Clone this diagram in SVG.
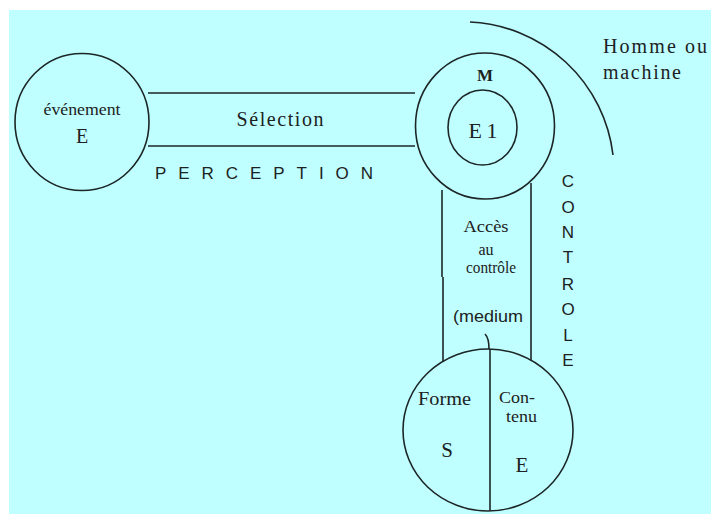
<svg xmlns="http://www.w3.org/2000/svg" width="711" height="514" viewBox="0 0 711 514">
<style>
.ln{fill:none;stroke:#1c2626;stroke-width:1.6}
.sf{font-family:"Liberation Serif","Times New Roman",serif;fill:#1c2222}
.ss{font-family:"Liberation Sans",Arial,sans-serif;fill:#1c2222}
</style>
<rect x="0" y="0" width="711" height="514" fill="#ffffff"/>
<rect x="9" y="10" width="702" height="504" fill="#c0ffff"/>
<g id="connectors">
<line class="ln" x1="148" y1="93" x2="415" y2="93"/>
<line class="ln" x1="148" y1="146" x2="415" y2="146"/>
<line class="ln" x1="442" y1="190" x2="442" y2="277"/>
<line class="ln" x1="443" y1="277" x2="443" y2="362"/>
<line class="ln" x1="531" y1="183" x2="531" y2="361"/>
<path class="ln" d="M485 334 Q489 338 489 349"/>
</g>
<g id="perception-label">
<text class="sf" x="280" y="126" font-size="20" text-anchor="middle" textLength="87" lengthAdjust="spacing">Sélection</text>
<text class="ss" x="155" y="179" font-size="17" textLength="218" lengthAdjust="spacing">PERCEPTION</text>
</g>
<g id="node-evenement">
<ellipse class="ln" cx="82" cy="122" rx="67" ry="68.5"/>
<text class="sf" x="82" y="115" font-size="16" text-anchor="middle" textLength="77" lengthAdjust="spacingAndGlyphs">événement</text>
<text class="sf" x="82" y="143" font-size="20" text-anchor="middle">E</text>
</g>
<g id="node-M">
<ellipse class="ln" cx="485" cy="126" rx="69.5" ry="73"/>
<ellipse class="ln" cx="482.5" cy="127.5" rx="34.5" ry="37.5"/>
<text class="sf" x="485" y="81" font-size="17" font-weight="bold" text-anchor="middle">M</text>
<text class="sf" x="483" y="138" font-size="22" text-anchor="middle" textLength="29" lengthAdjust="spacing">E1</text>
</g>
<g id="node-homme">
<path class="ln" d="M470 22 A151 151 0 0 1 613 155"/>
<text class="sf" x="603" y="53" font-size="20" textLength="104" lengthAdjust="spacing">Homme ou</text>
<text class="sf" x="603" y="79" font-size="20" textLength="78" lengthAdjust="spacing">machine</text>
</g>
<g id="controle-label" class="ss" font-size="17" text-anchor="middle">
<text class="ss" x="568" y="187">C</text>
<text class="ss" x="568" y="213">O</text>
<text class="ss" x="568" y="238">N</text>
<text class="ss" x="568" y="263">T</text>
<text class="ss" x="568" y="290">R</text>
<text class="ss" x="568" y="315">O</text>
<text class="ss" x="568" y="341">L</text>
<text class="ss" x="568" y="366">E</text>
</g>
<g id="acces-label" text-anchor="middle">
<text class="sf" x="486" y="232" font-size="16" textLength="45" lengthAdjust="spacingAndGlyphs">Accès</text>
<text class="sf" x="486" y="255" font-size="16">au</text>
<text class="sf" x="491" y="273" font-size="16" textLength="50" lengthAdjust="spacingAndGlyphs">contrôle</text>
<text class="ss" x="488" y="322" font-size="17" textLength="70" lengthAdjust="spacingAndGlyphs">(medium</text>
</g>
<g id="node-signe">
<ellipse class="ln" cx="488" cy="430" rx="85" ry="81"/>
<line class="ln" x1="490" y1="349" x2="490" y2="511"/>
<text class="sf" x="418" y="405" font-size="18" textLength="53" lengthAdjust="spacingAndGlyphs">Forme</text>
<text class="sf" x="447" y="457" font-size="21" text-anchor="middle">S</text>
<text class="sf" x="499" y="403" font-size="17" textLength="36" lengthAdjust="spacingAndGlyphs">Con-</text>
<text class="sf" x="506" y="422" font-size="17" textLength="31" lengthAdjust="spacingAndGlyphs">tenu</text>
<text class="sf" x="522" y="472" font-size="21" text-anchor="middle">E</text>
</g>
</svg>
